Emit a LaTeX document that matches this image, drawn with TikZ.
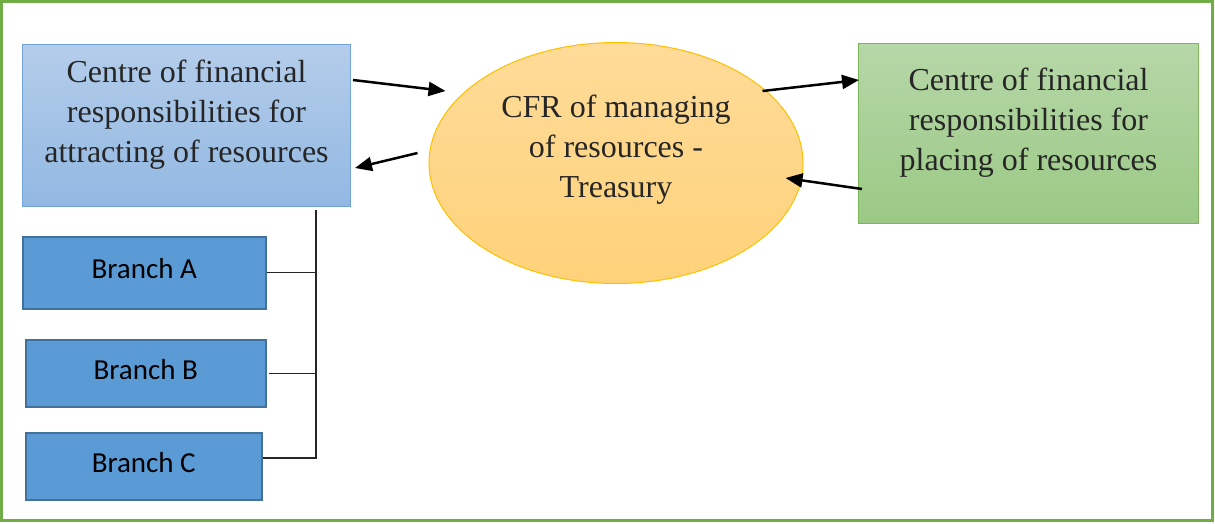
\documentclass[tikz,border=0pt]{standalone}
\usepackage{fontspec}
\setmainfont{Liberation Serif}
\newfontfamily\brfont{Carlito}
\usetikzlibrary{shapes.geometric,arrows.meta,calc}
\definecolor{frameG}{HTML}{70AD47}
\definecolor{blueTop}{HTML}{B4CDEA}
\definecolor{blueBot}{HTML}{92B8E2}
\definecolor{blueLine}{HTML}{6FA3DA}
\definecolor{ellTop}{HTML}{FEDB98}
\definecolor{ellBot}{HTML}{FED27A}
\definecolor{ellLine}{HTML}{FFC000}
\definecolor{grTop}{HTML}{B6D7A8}
\definecolor{grBot}{HTML}{9BC985}
\definecolor{grLine}{HTML}{7DB65B}
\definecolor{brFill}{HTML}{5B9BD5}
\definecolor{brLine}{HTML}{41719C}
\definecolor{txt}{HTML}{262626}
\tikzset{
  bigtext/.style={align=center,text=txt,font=\fontsize{32}{40}\selectfont,inner sep=0pt},
  branchbox/.style={draw=brLine,line width=1.5pt,fill=brFill,anchor=north west,inner sep=0pt,
    font=\brfont\fontsize{29}{34}\selectfont,text=black},
  arr/.style={line width=2.5pt,-{Triangle[length=17pt,width=14pt]}},
  tie/.style={line width=1.1pt,draw=black!85}
}
\begin{document}
\begin{tikzpicture}[x=1pt,y=-1pt]
\useasboundingbox (0,0) rectangle (1215,523);
\draw[frameG,line width=3pt] (1.5,1.5) rectangle (1212.5,520.5);
% blue box
\node[draw=blueLine,line width=1pt,top color=blueTop,bottom color=blueBot,anchor=north west,
  minimum width=328pt,minimum height=162pt,inner sep=0pt] (attr) at (22,44) {};
\node[bigtext] (attrT) at ($(attr.center)+(0,-11)$) {Centre of financial\\responsibilities for\\attracting of resources};
% ellipse
\node[ellipse,draw=ellLine,line width=1pt,top color=ellTop,bottom color=ellBot,
  minimum width=374pt,minimum height=241pt,inner sep=0pt] (tre) at (616,163) {};
\node[bigtext] (treT) at ($(tre.center)+(0,-13)$) {CFR of managing\\of resources -\\Treasury};
% green box
\node[draw=grLine,line width=1pt,top color=grTop,bottom color=grBot,anchor=north west,
  minimum width=340pt,minimum height=180pt,inner sep=0pt] (plac) at (858,43) {};
\node[bigtext] (placT) at ($(plac.center)+(0,-11)$) {Centre of financial\\responsibilities for\\placing of resources};
% branches
\node[branchbox,minimum width=243pt,minimum height=72pt] (bA) at (22,236) {\raisebox{8pt}{Branch A}};
\node[branchbox,minimum width=240pt,minimum height=67pt] (bB) at (25,339) {\raisebox{8pt}{Branch B}};
\node[branchbox,minimum width=236pt,minimum height=67pt] (bC) at (25,432) {\raisebox{8pt}{Branch C}};
% connectors
\coordinate (vtop) at (316,210);
\coordinate (vbot) at (316,458);
\draw[tie] (vtop) -- (vbot);
\draw[tie] (bA.east) -- (bA.east -| vtop);
\draw[tie] ($(bB.east)+(2,0)$) -- ($(bB.east -| vtop)+(1,0)$);
\draw[tie] (bC.east |- vbot) -- ($(vbot)+(1,0)$);
% arrows
\coordinate (a1s) at ($(attr.north east)+(2,36)$);
\coordinate (a1e) at ($(tre.west)+(17,-72)$);
\draw[arr] (a1s) -- (a1e);
\coordinate (a2s) at ($(tre.west)+(-11,-10)$);
\coordinate (a2e) at ($(attr.north east)+(4,124)$);
\draw[arr] (a2s) -- (a2e);
\coordinate (a3s) at ($(tre.east)+(-41,-72)$);
\coordinate (a3e) at ($(plac.north west)+(1,37)$);
\draw[arr] (a3s) -- (a3e);
\coordinate (a4s) at ($(plac.north west)+(4,146)$);
\coordinate (a4e) at ($(tre.east)+(-18,15)$);
\draw[arr] (a4s) -- (a4e);
\end{tikzpicture}
\end{document}
